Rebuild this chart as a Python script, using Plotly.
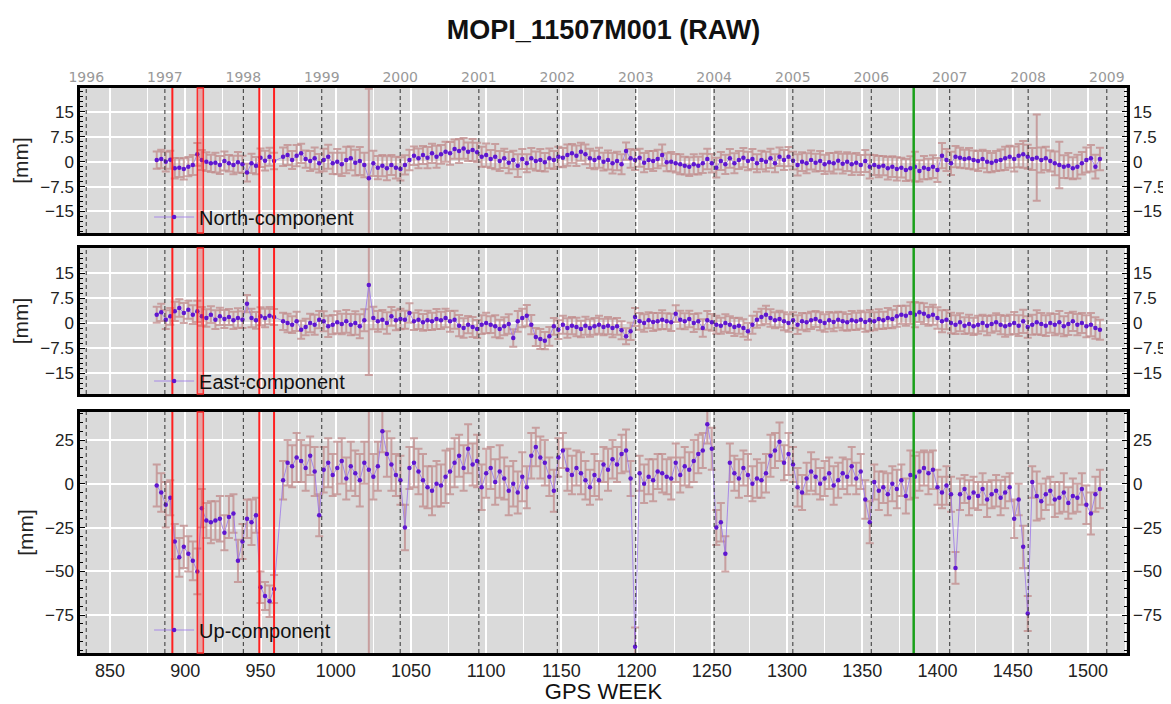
import plotly.graph_objects as go
from datetime import date

# ---------------- data ----------------
weeks_a = list(range(881, 960, 3))
weeks_b = list(range(965, 1509, 3))

north_a = [0.5, 0.8, 0, 0.6, -2, -1.8, -2.2, -1.5, -1, 2.2,
           0.5, 0, -0.5, -0.3, -1, 0.2, -0.5, -1, -0.2, -0.8,
           -3.3, -0.5, -1.2, 1.2, 0.3, 1.5, 0.2]
north_b = [1.5, 2, 0.5, 1.8, 2.5, 0.8, 0.2, 1, -0.5, 0.5,
           1.5, -0.5, 0, -0.8, 0.5, 1, -0.3, 0.2, -1, -5,
           -0.5, -1.8, -1.2, -2, -1, -1.8, -2.2, -1, 0.5, 1.8,
           1, 2, 1.2, 2.5, 1.5, 2.2, 3, 2.5, 3.8, 3.2,
           4, 3, 3.5, 2.8, 1.5, 2, 0.8, 1.5, 0.2, 1,
           -0.3, 0.5, -1.2, 0.8, -0.5, 1, 0.2, 0.5, -0.2, 1,
           0.5, 1.5, 1.2, 2, 2.5, 1.8, 3, 2.2, 1, 0.5,
           1.2, 0, 0.5, -0.5, 0.2, -0.8, 3.2, 1, 0.5, 1.2,
           -0.3, 0.5, 0.2, 0.8, 2, -0.2, 0, -0.5, -0.8, -1.2,
           -1.5, -0.8, -1.2, -0.5, 0.8, -0.5, -1.8, 0.2, -0.8, 1,
           -0.5, 0.5, 1.2, 0.2, 0.8, -0.5, 0.5, 0, 1, -0.5,
           1.5, 0.5, 1.5, 0.3, -1, 0, -0.5, 0.5, -0.3, 0.2,
           -0.8, -0.2, -0.5, 0.3, -0.6, 0, -0.8, -0.3, -1, 0.2,
           -1.5, -1, -1.5, -1.2, -2, -1.5, -2.2, -1.8, -2.5, -2,
           -1.5, -2.8, -1.8, -2.2, -1.5, -2.5, 1.8, 0.5, -0.5, 1.5,
           1.2, 0.8, 1, 0.5, 0.2, 0.8, 0, -0.3, 0.2, 0.5,
           1, 1.5, 0.8, 1.8, 2.2, 1.5, 0.8, 1.2, 0.5, 1,
           0.2, -0.5, -1, -1.5, -1.2, -2, -1.5, -0.5, 0.5, 1,
           -1.5, 0.8]

east_a = [2.5, 3.2, 1, 2, 3.5, 4.5, 3, 4, 2.5, 3.5,
          2, 1.5, 2.5, 1, 2, 1.2, 1.8, 0.8, 1.5, 1,
          5.8, 1.5, 0.8, 2, 1.5, 2.2, 1.8]
east_b = [0.5, 0, -0.5, 0.5, -2, -1.2, 0, -0.5, 1, 0.5,
          -1, -0.5, 0.2, -0.3, 0.5, -0.5, 0, -1, 0.8, 11.4,
          1.5, 0.5, 1, 0, 2, 0.8, 1.2, 1, 3, 0.5,
          1, 0.2, 0.8, 0.5, 1.2, 0.8, 1.5, 0.5, 1, -0.8,
          -1.5, -0.5, -1.2, -1.8, -0.5, 0, -0.5, -1, -1.8, -1,
          -0.3, -4.5, 0.5, 1.5, 2.2, -0.5, -4.2, -4.8, -5.3, -4,
          -1, -2, -0.5, -1.5, -0.8, -1.2, -1.8, -0.8, -1.5, -1,
          -0.5, -1.2, -0.8, -1.5, -1, -2.2, -4, -2.5, 1.8, 0.5,
          0, 0.8, 0.3, 0.5, 1, 0.5, 0.2, 2.8, 1, 0.5,
          1.2, 0, 0.5, -1.5, 0.8, 0.2, -0.5, -0.8, 0, -0.5,
          -1.2, -0.8, -1.5, -2.5, -0.5, 1, 1.8, 2.5, 1.5, 0.8,
          1.2, 0.5, 0, 0.8, -0.5, 0.5, 0.2, 0.8, 1.2, 0.5,
          0, 0.8, 0.3, 1, 0.5, 0.2, 0.8, 0.5, 1, 0.3,
          0.8, 0.5, 1.2, 0.8, 1.5, 1.2, 2, 2.5, 2.2, 3,
          2.5, 3.2, 2.8, 2, 2.5, 1.5, 0.5, 1, 0, -0.5,
          0.2, -0.8, -0.3, -1, -0.5, 0, -0.8, -0.3, 0.2, -0.5,
          -1, -0.5, 0, -0.8, 0.5, -1.2, -0.5, 0.2, -0.3, -0.8,
          0, -0.5, 0.2, -1, -0.3, 0.5, -0.5, 0, -1, -0.5,
          -1.5, -2]

up_a = [-1, -5, -12, -8, -33, -42, -36, -40, -44, -50,
        -14, -21, -22, -21, -20, -28, -19, -17, -44, -33,
        -20, -22, -18, -59, -64, -67, -60]
up_b = [2, 12, 10, 15, 13, 9, 16, 7, -18, 8,
        12, 5, 9, 13, 3, 10, 6, 2, 12, 8,
        4, 10, 30, 17, 11, 5, 2, -25, 9, 12,
        7, 2, -2, -4, 0, -1, 4, 7, 12, 16,
        9, 20, 11, 13, -2, 6, 9, 1, 7, 3,
        -4, 0, -5, 4, -2, 16, 21, 15, 12, 4,
        -4, 15, 19, 8, 5, 9, 6, 2, -2, 5,
        2, 11, 8, 14, 11, 17, 19, 3, -93, 6,
        0, 4, 2, 7, 6, 4, 3, 12, 5, 10,
        8, 13, 17, 19, 34, 20, -25, -22, -40, 12,
        6, 3, 9, 5, 0, 3, 2, 6, 16, 19,
        24, 12, 17, 11, -2, -5, 3, 7, 4, 0,
        3, 6, -1, 2, 6, 4, 10, 3, 7, -9,
        -22, 1, -4, -2, -6, 0, -3, 2, -7, 5,
        4, 7, 9, 6, 8, -2, -5, -1, -6, -48,
        -6, -3, -8, -5, -7, -3, -9, -6, -4, -8,
        -5, -2, -20, -9, -36, -74, 1, -7, -10, -6,
        -4, -9, -8, -5, -11, -7, -8, -3, -12, -17,
        -6, -3]

sig_north_a = [2.6, 2.8, 3, 2.7, 3.1, 2.8, 3.2, 2.9, 3, 3.4,
               3, 2.8, 2.6, 3, 2.7, 2.9, 2.5, 2.8, 3.1, 2.6,
               2.7, 2.9, 2.6, 2.8, 3, 2.7, 2.5]
sig_north_b = [2.8, 3, 2.7, 3.2, 2.9, 2.6, 3, 3.3, 2.8, 3.4,
               3.6, 3.2, 3.8, 3.5, 4, 3.6, 3.9, 4.2, 3.7, 27,
               3.8, 3.5, 3.2, 3.6, 3, 3.3, 3.5, 2.9, 3.1, 2.8,
               3, 2.7, 3.2, 2.9, 3.3, 2.8, 3, 3.4, 2.9, 3.6,
               3.1, 2.8, 3.3, 2.9, 3, 3.5, 2.7, 3.8, 3, 2.9,
               3.2, 2.8, 3.4, 3, 2.7, 3.1, 2.9, 3.3, 2.8, 3,
               2.7, 3, 2.9, 3.2, 2.8, 3.1, 2.7, 3, 2.9, 2.8,
               3, 2.7, 2.9, 3.1, 2.8, 3, 2.6, 2.8, 3, 2.7,
               2.9, 2.7, 3, 2.8, 3.2, 2.7, 2.9, 2.8, 3, 2.7,
               2.8, 3, 2.7, 2.9, 3.1, 2.8, 3, 2.7, 2.9, 2.8,
               3, 2.7, 2.9, 2.8, 3, 2.7, 2.8, 3, 2.9, 2.7,
               2.8, 3, 2.9, 2.7, 3.2, 2.8, 3, 2.9, 2.7, 3,
               2.9, 2.8, 3.1, 2.7, 3, 2.8, 3.2, 2.9, 3, 3.3,
               3.6, 3, 3.2, 2.9, 3.4, 3.1, 3.5, 3, 3.3, 3.6,
               4.5, 3.2, 3.5, 3.1, 3.4, 3.6, 3.8, 3.3, 3.5, 3.2,
               3, 2.8, 3.1, 2.9, 3, 2.8, 3.2, 2.9, 3, 3.2,
               3.5, 3.3, 3.8, 3.5, 4, 3.6, 3.3, 13, 3.8, 3.5,
               3.2, 3.6, 7, 3.4, 3.8, 3.3, 3.6, 3.4, 3.8, 4,
               3.6, 3.4]

sig_east_a = [2.4, 2.6, 2.8, 2.5, 2.9, 2.6, 3, 2.7, 2.8, 3.2,
              2.8, 2.6, 2.5, 2.8, 2.6, 2.7, 2.4, 2.6, 2.9, 2.5,
              2.6, 2.8, 2.5, 2.7, 2.8, 2.6, 2.4]
sig_east_b = [2.6, 2.8, 2.5, 2.9, 2.7, 2.5, 2.8, 3, 2.6, 3,
              3.2, 2.9, 3.3, 3.1, 3.4, 3.2, 3.5, 3.6, 3.3, 27,
              3.4, 3.1, 2.9, 3.2, 2.8, 3, 3.1, 2.7, 2.9, 2.6,
              2.8, 2.5, 2.9, 2.6, 3, 2.6, 2.8, 3.1, 2.7, 3.2,
              2.9, 2.6, 3, 2.7, 2.8, 3.1, 2.5, 3.3, 2.8, 2.7,
              2.9, 2.6, 3.1, 2.8, 3.2, 2.9, 2.7, 3, 2.6, 2.8,
              2.5, 2.8, 2.7, 2.9, 2.6, 2.8, 2.5, 2.7, 2.6, 2.5,
              2.7, 2.5, 2.6, 2.8, 2.5, 2.7, 2.4, 2.6, 2.7, 2.5,
              2.6, 2.4, 2.7, 2.5, 2.8, 2.4, 2.6, 2.5, 2.7, 2.4,
              2.5, 2.7, 2.4, 2.6, 2.8, 2.5, 2.7, 2.4, 2.6, 2.5,
              2.7, 2.4, 2.6, 2.5, 2.7, 2.4, 2.5, 2.7, 2.6, 2.4,
              2.5, 2.7, 2.6, 2.4, 2.8, 2.5, 2.7, 2.6, 2.4, 2.7,
              2.6, 2.5, 2.8, 2.4, 2.7, 2.5, 2.8, 2.6, 2.7, 2.9,
              3.1, 2.7, 2.9, 2.6, 3, 2.8, 3.1, 2.7, 3, 3.2,
              3.8, 2.9, 3.1, 2.8, 3, 3.2, 3.3, 2.9, 3.1, 2.8,
              2.7, 2.5, 2.8, 2.6, 2.7, 2.5, 2.9, 2.6, 2.7, 2.9,
              3.1, 3, 3.3, 3.1, 3.5, 3.2, 3, 3.6, 3.3, 3.1,
              2.9, 3.2, 3.4, 3, 3.3, 2.9, 3.2, 3, 3.3, 3.5,
              3.2, 3]

sig_up_a = [12, 11, 13, 10, 10, 11, 12, 10, 11, 13,
            11, 10, 12, 11, 13, 10, 12, 11, 12, 10,
            11, 13, 10, 9, 8, 9, 8]
sig_up_b = [11, 13, 12, 14, 12, 13, 11, 14, 12, 13,
            14, 12, 15, 13, 12, 14, 13, 15, 12, 150,
            13, 14, 12, 13, 15, 12, 14, 13, 12, 14,
            13, 15, 12, 14, 13, 12, 15, 13, 14, 12,
            13, 14, 12, 15, 13, 14, 12, 13, 15, 12,
            14, 13, 12, 14, 12, 13, 11, 12, 13, 11,
            12, 11, 10, 12, 11, 10, 12, 11, 10, 12,
            11, 10, 12, 11, 10, 11, 12, 10, 11, 10,
            11, 10, 12, 10, 11, 10, 12, 11, 10, 11,
            10, 12, 11, 10, 11, 12, 10, 11, 10, 11,
            10, 11, 10, 12, 10, 11, 10, 11, 12, 10,
            11, 10, 12, 10, 11, 10, 9, 11, 10, 9,
            10, 9, 11, 10, 9, 10, 11, 9, 10, 11,
            12, 10, 11, 9, 12, 10, 11, 9, 10, 14,
            12, 11, 10, 12, 11, 10, 9, 11, 10, 9,
            9, 8, 10, 9, 8, 9, 10, 8, 9, 10,
            9, 8, 11, 9, 12, 10, 9, 14, 10, 9,
            8, 10, 9, 11, 9, 10, 8, 9, 11, 12,
            10, 11]

red_events = [891.4, 949.2, 959.0]
red_band = [908.0, 912.0]
green_events = [1384.2]
years = list(range(1996, 2010))
week_ticks = [850, 900, 950, 1000, 1050, 1100, 1150, 1200, 1250, 1300, 1350, 1400, 1450, 1500]
ne_ticks = [-15, -7.5, 0, 7.5, 15]
ne_ticklabels = ["\u221215", "\u22127.5", "0", "7.5", "15"]
up_ticks = [-75, -50, -25, 0, 25]
up_ticklabels = ["\u221275", "\u221250", "\u221225", "0", "25"]

weeks = weeks_a + weeks_b
series = [
    ("North-component", north_a + north_b, sig_north_a + sig_north_b),
    ("East-component", east_a + east_b, sig_east_a + sig_east_b),
    ("Up-component", up_a + up_b, sig_up_a + sig_up_b),
]
for name, v, s in series:
    assert len(v) == len(weeks), (name, len(v), len(weeks))
    assert len(s) == len(weeks), (name, 'sig', len(s), len(weeks))

gps0 = date(1980, 1, 6)
year_weeks = [(date(y, 1, 1) - gps0).days / 7.0 for y in years]

# ---------------- figure ----------------
# the page body has an 8px margin, so the figure sits at (8, 8) on screen
OFF = 8
W, H = 1171 - OFF, 704 - OFF
PL, PR, PT, PB = 80, 1127, 88, 653        # plot box in screen pixels
L, R, T, B = PL - OFF, W - (PR - OFF), PT - OFF, H - (PB - OFF)
ph = H - T - B
def ypaper(screen_y):
    return (H - B - (screen_y - OFF)) / ph
def dom(top_px, bot_px):
    return [ypaper(bot_px), ypaper(top_px)]

domains = [dom(88, 233), dom(248, 394), dom(412, 653)]
ranges = [[-21.5, 22.2], [-21.3, 22.5], [-96.6, 41]]
xrange_ = [830, 1526]

FONT = "Liberation Sans, Arial, sans-serif"
ERRC = "rgba(192,138,138,0.75)"
MARKC = "#5f16d0"
LINEC = "rgba(150,110,235,0.75)"

fig = go.Figure()
legend_ids = ["legend", "legend2", "legend3"]
for i, (name, vals, sig) in enumerate(series):
    xa = "x" if i == 0 else f"x{i+1}"
    ya = "y" if i == 0 else f"y{i+1}"
    fig.add_trace(go.Scatter(
        x=weeks, y=vals, mode="markers", xaxis=xa, yaxis=ya,
        marker=dict(size=1, color="rgba(0,0,0,0)"),
        error_y=dict(type="data", array=sig, visible=True, color=ERRC,
                     thickness=2, width=4),
        showlegend=False, hoverinfo="skip"))
    fig.add_trace(go.Scatter(
        x=weeks, y=vals, mode="lines+markers", name=name, xaxis=xa, yaxis=ya,
        line=dict(color=LINEC, width=1),
        marker=dict(size=4.5, color=MARKC),
        legend=legend_ids[i]))

# empty traces to anchor overlay axes
fig.add_trace(go.Scatter(x=[], y=[], xaxis="x4", yaxis="y", showlegend=False))
for i in range(3):
    xa = "x" if i == 0 else f"x{i+1}"
    fig.add_trace(go.Scatter(x=[], y=[], xaxis=xa, yaxis=f"y{i+4}", showlegend=False))

ytickfont = dict(family=FONT, size=17, color="#222222")
xtickfont = dict(family=FONT, size=18, color="#222222")
layout = dict(
    template="none",
    width=W, height=H,
    margin=dict(l=L, r=R, t=T, b=B, autoexpand=False),
    paper_bgcolor="white", plot_bgcolor="#dadada",
    font=dict(family=FONT, color="#222222"),
    title=dict(text="<b>MOPI_11507M001 (RAW)</b>", x=0.5, xref="paper",
               y=1 - (30 - OFF) / H, yref="container", yanchor="middle", xanchor="center",
               font=dict(family=FONT, size=27, color="#111111")),
)

for i in range(3):
    xk = "xaxis" if i == 0 else f"xaxis{i+1}"
    yk = "yaxis" if i == 0 else f"yaxis{i+1}"
    ya = "y" if i == 0 else f"y{i+1}"
    layout[xk] = dict(
        range=xrange_, anchor=ya, domain=[0, 1], automargin=False,
        tickvals=week_ticks, showticklabels=(i == 2), tickfont=xtickfont,
        ticks="", showgrid=True, gridcolor="white", gridwidth=2,
        minor=dict(dtick=25, tick0=0, showgrid=True, gridcolor="white", gridwidth=1),
        showline=True, linecolor="black", linewidth=2.5, mirror=True,
        zeroline=False,
    )
    if i > 0:
        layout[xk]["matches"] = "x"
    if i == 2:
        layout[xk]["title"] = dict(text="GPS WEEK", font=dict(family=FONT, size=22, color="#111111"), standoff=2)
    yt = ne_ticks if i < 2 else up_ticks
    ytt = ne_ticklabels if i < 2 else up_ticklabels
    mdt = 1.5 if i < 2 else 5
    layout[yk] = dict(
        range=ranges[i], domain=domains[i], anchor="x" if i == 0 else f"x{i+1}",
        automargin=False,
        tickvals=yt, ticktext=ytt, tickfont=ytickfont,
        ticks="inside", ticklen=5, tickcolor="black",
        minor=dict(dtick=mdt, ticks="inside", ticklen=3, tickcolor="black", showgrid=False),
        showgrid=True, gridcolor="white", gridwidth=2, zeroline=False,
        showline=True, linecolor="black", linewidth=2.5, mirror=True,
        title=dict(text="[mm]", font=dict(family=FONT, size=21, color="#222222"), standoff=6),
    )
    layout[f"yaxis{i+4}"] = dict(
        range=ranges[i], overlaying=ya, side="right", anchor="x" if i == 0 else f"x{i+1}",
        automargin=False,
        tickvals=yt, ticktext=ytt, tickfont=ytickfont, ticklabelstandoff=5,
        ticks="inside", ticklen=5, tickcolor="black",
        minor=dict(dtick=mdt, ticks="inside", ticklen=3, tickcolor="black", showgrid=False),
        showgrid=False, zeroline=False, showline=False,
    )

layout["xaxis4"] = dict(
    range=xrange_, overlaying="x", side="top", anchor="y", automargin=False,
    tickvals=year_weeks, ticktext=[str(y) for y in years],
    tickfont=dict(family="DejaVu Sans, sans-serif", size=14, color="#999999"),
    ticks="", ticklabelstandoff=2, showgrid=False, zeroline=False, showline=False,
)

legend_y = [ypaper(217), ypaper(381), ypaper(630)]
for i, lid in enumerate(legend_ids):
    layout[lid] = dict(x=0.066, y=legend_y[i], xanchor="left", yanchor="middle",
                       bgcolor="rgba(0,0,0,0)", borderwidth=0,
                       font=dict(family=FONT, size=20, color="#111111"),
                       itemwidth=40)

fig.update_layout(**layout)

shapes = []
for i in range(3):
    xr = "x" if i == 0 else f"x{i+1}"
    yr = "y domain" if i == 0 else f"y{i+1} domain"
    for yw in year_weeks:
        shapes.append(dict(type="line", xref=xr, yref=yr, x0=yw, x1=yw, y0=0, y1=1,
                           line=dict(color="#333333", width=1, dash="4px,3px"), layer="above"))
    shapes.append(dict(type="rect", xref=xr, yref=yr, x0=red_band[0], x1=red_band[1], y0=0, y1=1,
                       fillcolor="rgba(255,40,40,0.3)", line=dict(color="rgba(255,30,30,0.9)", width=1.5),
                       layer="above"))
    for rw in red_events:
        shapes.append(dict(type="line", xref=xr, yref=yr, x0=rw, x1=rw, y0=0, y1=1,
                           line=dict(color="#ff2020", width=2), layer="above"))
    for gw in green_events:
        shapes.append(dict(type="line", xref=xr, yref=yr, x0=gw, x1=gw, y0=0, y1=1,
                           line=dict(color="#1aa01a", width=2.5), layer="above"))
fig.update_layout(shapes=shapes)

fig.write_html("out.html")
